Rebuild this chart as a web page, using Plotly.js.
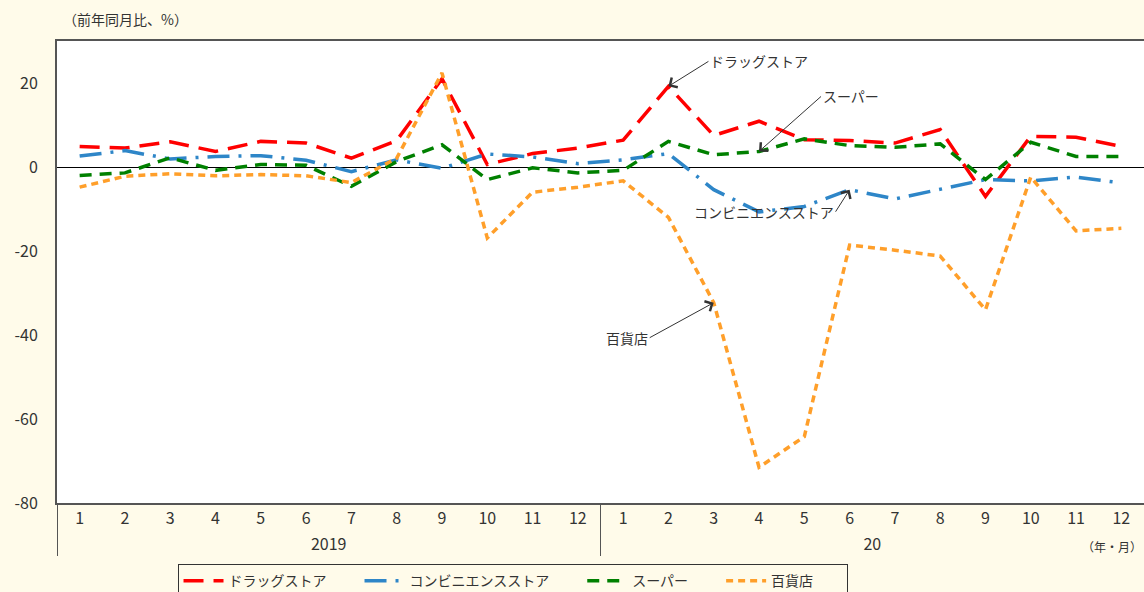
<!DOCTYPE html>
<html>
<head>
<meta charset="utf-8">
<script src="https://cdn.plot.ly/plotly-3.0.1.min.js"></script>
<style>
  html, body { margin: 0; padding: 0; background: #FFFBEA; }
  #chart { width: 1144px; height: 592px; }
</style>
</head>
<body>
<div id="chart"></div>
<script>
// ---- data ----
const years  = ['2019','2019','2019','2019','2019','2019','2019','2019','2019','2019','2019','2019',
                '20','20','20','20','20','20','20','20','20','20','20','20'];
const months = ['1','2','3','4','5','6','7','8','9','10','11','12',
                '1','2','3','4','5','6','7','8','9','10','11','12'];

const drugstore   = [4.9, 4.5, 6.0, 3.7, 6.1, 5.7, 2.1, 6.3, 21.0, 0.6, 3.2, 4.5,
                     6.4, 19.2, 7.5, 10.9, 6.5, 6.3, 5.7, 8.9, -7.0, 7.3, 7.1, 4.9];
const convenience = [2.6, 3.9, 1.9, 2.5, 2.7, 1.6, -1.1, 1.7, -0.3, 3.1, 2.4, 0.8,
                     1.7, 3.2, -5.4, -10.7, -9.4, -5.4, -7.6, -5.4, -3.0, -3.3, -2.4, -3.8];
const supermarket = [-2.0, -1.4, 2.2, -0.8, 0.6, 0.4, -4.6, 1.3, 5.3, -3.0, -0.2, -1.4,
                     -0.8, 6.1, 2.9, 3.7, 6.7, 5.1, 4.7, 5.5, -3.0, 5.9, 2.5, 2.5];
const department  = [-4.8, -2.2, -1.6, -2.1, -1.8, -2.1, -3.7, 2.1, 22.4, -16.9, -6.0, -4.8,
                     -3.3, -12.0, -32.3, -71.5, -64.2, -18.6, -19.8, -21.2, -34.0, -2.4, -15.2, -14.6];

const names = ['ドラッグストア', 'コンビニエンスストア', 'スーパー', '百貨店'];
const yTicks = [-80, -60, -40, -20, 0, 20];

// ---- chart ----
const FONT = '"Noto Sans CJK JP", "Noto Sans", sans-serif';
const TXT = '#333333';
const xCat = [years, months];
const PAD = '\u2003\u2003';

const traces = [
  {name: names[0] + PAD, y: drugstore,   line: {color: '#FF0000', width: 3.5, dash: '20px,10px'}},
  {name: names[1] + PAD, y: convenience, line: {color: '#2E86C8', width: 3.5, dash: '22px,9px,3px,9px'}},
  {name: names[2] + PAD, y: supermarket, line: {color: '#008000', width: 3.5, dash: '12px,8px'}},
  {name: names[3] + PAD, y: department,  line: {color: '#FF9F2A', width: 3.5, dash: '7px,5px'}}
].map(t => Object.assign({x: xCat, type: 'scatter', mode: 'lines', hoverinfo: 'skip'}, t));

const N = months.length;
const px = i => (i + 0.5) / N;

function callout(text, i, series, ax, ay, xanchor) {
  return {
    xref: 'paper', yref: 'y', x: px(i), y: series[i],
    axref: 'pixel', ayref: 'pixel', ax: ax, ay: ay,
    text: text, showarrow: true, arrowhead: 4, arrowsize: 2.2, arrowwidth: 1,
    arrowcolor: '#333333', standoff: 0, xanchor: xanchor, yanchor: 'middle',
    font: {family: FONT, size: 14, color: TXT}
  };
}

const layout = {
  width: 1144, height: 592,
  paper_bgcolor: '#FFFBEA', plot_bgcolor: '#FFFFFF',
  margin: {l: 57, r: 0, t: 41, b: 89},
  font: {family: FONT, size: 16, color: TXT},
  showlegend: true,
  legend: {
    orientation: 'h', xref: 'container', yref: 'container',
    x: 0.448, xanchor: 'center', y: 0.047, yanchor: 'top',
    bgcolor: 'rgba(0,0,0,0)', bordercolor: '#333333', borderwidth: 1,
    font: {family: FONT, size: 14, color: TXT}, itemwidth: 40, traceorder: 'normal'
  },
  xaxis: {
    type: 'multicategory', range: [-0.5, N - 0.5], automargin: false,
    showgrid: false, zeroline: false,
    showline: true, linecolor: '#555555', linewidth: 2, mirror: true,
    ticks: '', showdividers: true, dividercolor: '#555555', dividerwidth: 1,
    tickfont: {family: FONT, size: 16, color: TXT}
  },
  yaxis: {
    range: [-80, 30], tickvals: yTicks, ticktext: yTicks.map(String), automargin: false,
    showgrid: false, zeroline: true, zerolinecolor: '#000000', zerolinewidth: 1,
    showline: true, linecolor: '#555555', linewidth: 2, mirror: true,
    ticks: '', ticklabelstandoff: 14,
    tickfont: {family: FONT, size: 16, color: TXT}
  },
  annotations: [
    {xref: 'paper', yref: 'paper', x: 0.004, y: 1.048, xanchor: 'left', yanchor: 'middle',
     text: '（前年同月比、%）', showarrow: false, font: {family: FONT, size: 14, color: TXT}},
    {xref: 'paper', yref: 'paper', x: 1.0, y: -0.095, xanchor: 'right', yanchor: 'middle',
     text: '（年・月）', showarrow: false, font: {family: FONT, size: 12, color: TXT}},
    callout(names[0], 13, drugstore, 40, -25, 'left'),
    callout(names[2], 15, supermarket, 62, -55, 'left'),
    callout(names[1], 17, convenience, -14, 22, 'right'),
    callout(names[3], 14, department, -64, 35, 'right')
  ]
};

Plotly.newPlot('chart', traces, layout, {displayModeBar: false, staticPlot: true});
</script>
</body>
</html>
